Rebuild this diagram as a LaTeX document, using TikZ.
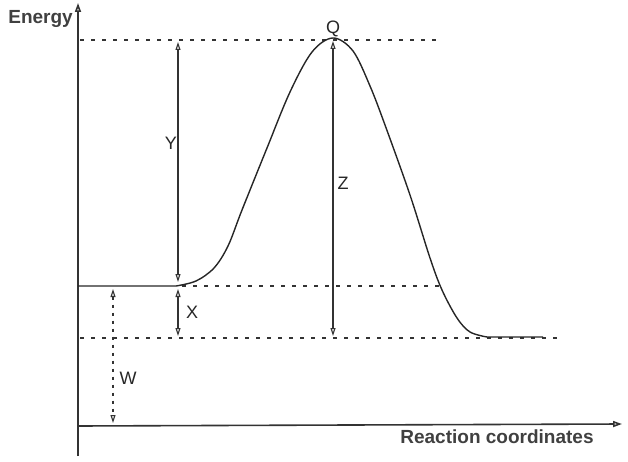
\documentclass[tikz,border=0pt]{standalone}
\usepackage{fontspec}
\setmainfont{Liberation Sans}
\usetikzlibrary{arrows.meta}
\tikzset{
  axis/.style={-{Triangle[open,length=9pt,width=6pt]}, line width=1.6pt, color=black!80},
  level/.style={line width=1.3pt, dash pattern=on 4pt off 7pt, color=black!80},
  gap/.style={{Triangle[open,length=8pt,width=5pt]}-{Triangle[open,length=8pt,width=5pt]}, line width=1.1pt, color=black!80},
  curve/.style={line width=1.4pt, color=black!85},
  lbl/.style={font=\fontsize{18}{20}\selectfont, color=black!85, inner sep=1pt},
  title/.style={font=\fontsize{19}{22}\selectfont\bfseries, color=black!75, inner sep=1pt}
}

\begin{document}
\begin{tikzpicture}[x=1pt,y=-1pt]
\useasboundingbox (0,0) rectangle (628,462);
% axes
\coordinate (O) at (78,426);
\coordinate (Ytop) at (78,3);
\coordinate (Ybot) at (78,456);
\coordinate (Xend) at (622,424);
\draw[axis] (Ybot) -- (Ytop);
\draw[axis] (O) -- (Xend);
\node[title, anchor=east] (energy) at (74,19) {Energy};
\node[title] (rc) at (497,437) {Reaction coordinates};
% dotted energy levels
\coordinate (Q) at (333,38);
\draw[level] (80,40) -- (442,40);
\draw[level] (182,286) -- (440,286);
\draw[level] (80,338) -- (560,338);
% energy profile
\draw[curve] (78,286) -- (176,286)
  plot[smooth, tension=0.55] coordinates {(176,286) (196,281) (214,268) (228,246) (242,210) (267,148) (290,92) (312,52) (333,38) (353,51) (370,86) (385,125) (410,195) (430,258) (442,290) (457,318) (470,332) (487,337)}
  -- (543,337);
\node[lbl, above] (qlbl) at (Q) {Q};
% Y
\coordinate (ya) at (178,42);
\coordinate (yb) at (178,282);
\draw[gap] (ya) -- (yb);
\node[lbl, left] (ylbl) at (178,143) {Y};
% X
\coordinate (xa) at (178,289);
\coordinate (xb) at (178,336);
\draw[gap] (xa) -- (xb);
\node[lbl] (xlbl) at (192,312) {X};
% Z
\coordinate (za) at (333,41);
\coordinate (zb) at (333,336);
\draw[gap] (za) -- (zb);
\node[lbl] (zlbl) at (343,183) {Z};
% W
\coordinate (wa) at (113,289);
\coordinate (wb) at (113,423);
\draw[gap, dash pattern=on 3pt off 5pt] (wa) -- (wb);
\node[lbl] (wlbl) at (128,378) {W};
\end{tikzpicture}
\end{document}
